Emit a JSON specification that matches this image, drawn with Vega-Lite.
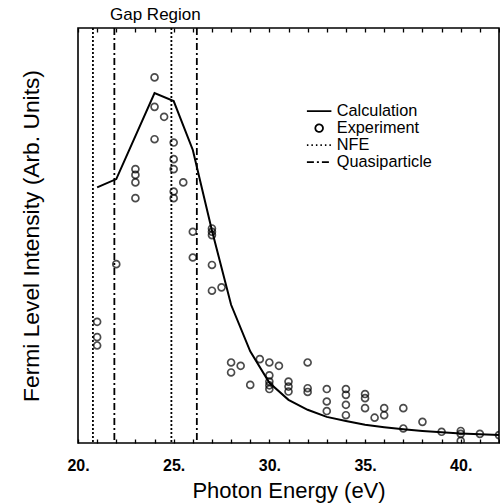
{
  "$schema": "https://vega.github.io/schema/vega-lite/v6.json",
  "width": 421,
  "height": 415,
  "autosize": {"type": "none"},
  "padding": {"left": 78, "top": 28, "right": 1, "bottom": 61},
  "background": "white",
  "title": {"text": "Gap Region", "anchor": "start", "frame": "group", "dx": 32, "offset": 3, "font": "Liberation Sans", "fontSize": 17, "fontWeight": "normal", "color": "black"},
  "config": {"view": {"stroke": "black", "strokeWidth": 1.6}},
  "datasets": {
    "refs": [
      {"energy": 20.78, "series": "NFE"},
      {"energy": 24.88, "series": "NFE"},
      {"energy": 21.9, "series": "Quasiparticle"},
      {"energy": 26.21, "series": "Quasiparticle"}
    ],
    "curve": [
      {"energy": 21, "intensity": 61.6, "series": "Calculation"},
      {"energy": 22, "intensity": 63.6, "series": "Calculation"},
      {"energy": 24, "intensity": 84.3, "series": "Calculation"},
      {"energy": 25, "intensity": 82.4, "series": "Calculation"},
      {"energy": 26, "intensity": 70.6, "series": "Calculation"},
      {"energy": 27, "intensity": 51.2, "series": "Calculation"},
      {"energy": 28, "intensity": 33.3, "series": "Calculation"},
      {"energy": 29, "intensity": 22.1, "series": "Calculation"},
      {"energy": 30, "intensity": 14.5, "series": "Calculation"},
      {"energy": 31, "intensity": 10.4, "series": "Calculation"},
      {"energy": 32, "intensity": 8.0, "series": "Calculation"},
      {"energy": 33, "intensity": 6.3, "series": "Calculation"},
      {"energy": 34, "intensity": 5.3, "series": "Calculation"},
      {"energy": 35, "intensity": 4.4, "series": "Calculation"},
      {"energy": 36, "intensity": 3.8, "series": "Calculation"},
      {"energy": 37, "intensity": 3.3, "series": "Calculation"},
      {"energy": 38, "intensity": 2.9, "series": "Calculation"},
      {"energy": 39, "intensity": 2.6, "series": "Calculation"},
      {"energy": 40, "intensity": 2.3, "series": "Calculation"},
      {"energy": 41, "intensity": 2.1, "series": "Calculation"},
      {"energy": 42, "intensity": 1.9, "series": "Calculation"}
    ],
    "exp": [
      {"energy": 21, "intensity": 29.2, "series": "Experiment"},
      {"energy": 21, "intensity": 25.5, "series": "Experiment"},
      {"energy": 21, "intensity": 23.5, "series": "Experiment"},
      {"energy": 22, "intensity": 43.1, "series": "Experiment"},
      {"energy": 23, "intensity": 66.0, "series": "Experiment"},
      {"energy": 23, "intensity": 64.6, "series": "Experiment"},
      {"energy": 23, "intensity": 62.8, "series": "Experiment"},
      {"energy": 23, "intensity": 59.0, "series": "Experiment"},
      {"energy": 24, "intensity": 88.1, "series": "Experiment"},
      {"energy": 24, "intensity": 81.0, "series": "Experiment"},
      {"energy": 24, "intensity": 73.2, "series": "Experiment"},
      {"energy": 24.5, "intensity": 78.6, "series": "Experiment"},
      {"energy": 25, "intensity": 72.4, "series": "Experiment"},
      {"energy": 25, "intensity": 68.4, "series": "Experiment"},
      {"energy": 25, "intensity": 66.0, "series": "Experiment"},
      {"energy": 25, "intensity": 60.6, "series": "Experiment"},
      {"energy": 25, "intensity": 59.0, "series": "Experiment"},
      {"energy": 25.5, "intensity": 62.8, "series": "Experiment"},
      {"energy": 26, "intensity": 50.9, "series": "Experiment"},
      {"energy": 26, "intensity": 44.7, "series": "Experiment"},
      {"energy": 27, "intensity": 51.7, "series": "Experiment"},
      {"energy": 27, "intensity": 50.9, "series": "Experiment"},
      {"energy": 27, "intensity": 50.1, "series": "Experiment"},
      {"energy": 27, "intensity": 42.9, "series": "Experiment"},
      {"energy": 27, "intensity": 36.7, "series": "Experiment"},
      {"energy": 27.5, "intensity": 37.5, "series": "Experiment"},
      {"energy": 28, "intensity": 19.4, "series": "Experiment"},
      {"energy": 28, "intensity": 17.0, "series": "Experiment"},
      {"energy": 28.5, "intensity": 18.6, "series": "Experiment"},
      {"energy": 29, "intensity": 14.0, "series": "Experiment"},
      {"energy": 29.5, "intensity": 20.2, "series": "Experiment"},
      {"energy": 30, "intensity": 19.4, "series": "Experiment"},
      {"energy": 30, "intensity": 16.3, "series": "Experiment"},
      {"energy": 30, "intensity": 14.8, "series": "Experiment"},
      {"energy": 30, "intensity": 13.9, "series": "Experiment"},
      {"energy": 30, "intensity": 13.0, "series": "Experiment"},
      {"energy": 30.5, "intensity": 18.6, "series": "Experiment"},
      {"energy": 31, "intensity": 14.8, "series": "Experiment"},
      {"energy": 31, "intensity": 13.6, "series": "Experiment"},
      {"energy": 31, "intensity": 12.4, "series": "Experiment"},
      {"energy": 32, "intensity": 19.4, "series": "Experiment"},
      {"energy": 32, "intensity": 13.2, "series": "Experiment"},
      {"energy": 32, "intensity": 12.3, "series": "Experiment"},
      {"energy": 33, "intensity": 13.0, "series": "Experiment"},
      {"energy": 33, "intensity": 10.0, "series": "Experiment"},
      {"energy": 33, "intensity": 7.7, "series": "Experiment"},
      {"energy": 34, "intensity": 13.0, "series": "Experiment"},
      {"energy": 34, "intensity": 11.6, "series": "Experiment"},
      {"energy": 34, "intensity": 9.2, "series": "Experiment"},
      {"energy": 34, "intensity": 6.7, "series": "Experiment"},
      {"energy": 35, "intensity": 11.8, "series": "Experiment"},
      {"energy": 35, "intensity": 10.8, "series": "Experiment"},
      {"energy": 35, "intensity": 8.4, "series": "Experiment"},
      {"energy": 35.5, "intensity": 6.1, "series": "Experiment"},
      {"energy": 36, "intensity": 8.4, "series": "Experiment"},
      {"energy": 36, "intensity": 6.7, "series": "Experiment"},
      {"energy": 37, "intensity": 8.4, "series": "Experiment"},
      {"energy": 37, "intensity": 3.5, "series": "Experiment"},
      {"energy": 38, "intensity": 5.1, "series": "Experiment"},
      {"energy": 39, "intensity": 2.7, "series": "Experiment"},
      {"energy": 40, "intensity": 2.9, "series": "Experiment"},
      {"energy": 40, "intensity": 2.2, "series": "Experiment"},
      {"energy": 40, "intensity": 0.5, "series": "Experiment"},
      {"energy": 41, "intensity": 2.2, "series": "Experiment"},
      {"energy": 42, "intensity": 1.9, "series": "Experiment"}
    ]
  },
  "resolve": {"axis": {"x": "independent"}},
  "layer": [
    {
      "data": {"name": "refs"},
      "mark": {"type": "rule", "strokeWidth": 1.8},
      "encoding": {
        "x": {
          "field": "energy", "type": "quantitative",
          "scale": {"domain": [20, 42], "nice": false, "zero": false},
          "axis": {
            "orient": "top", "values": [20,21,22,23,24,25,26,27,28,29,30,31,32,33,34,35,36,37,38,39,40,41,42],
            "labels": false, "title": null, "domain": false, "grid": false,
            "tickSize": -4, "tickColor": "black", "tickWidth": 1.3,
            "encode": {"ticks": {"update": {"y2": {"signal": "datum.value % 5 === 0 ? 7 : 4"}}}}
          }
        },
        "color": {"field": "series", "type": "nominal"},
        "strokeDash": {
          "field": "series", "type": "nominal",
          "scale": {"domain": ["NFE", "Quasiparticle"], "range": [[2, 2], [7, 3, 2, 3]]},
          "legend": null
        }
      }
    },
    {
      "data": {"name": "curve"},
      "mark": {"type": "line", "strokeWidth": 2, "clip": true},
      "encoding": {
        "x": {
          "field": "energy", "type": "quantitative",
          "scale": {"domain": [20, 42], "nice": false, "zero": false},
          "axis": {
            "orient": "bottom", "values": [20,21,22,23,24,25,26,27,28,29,30,31,32,33,34,35,36,37,38,39,40,41,42],
            "labelExpr": "datum.value % 5 === 0 ? datum.value + '.' : ''",
            "labelOverlap": false, "labelFlush": false,
            "domain": false, "grid": false,
            "tickSize": -4, "tickColor": "black", "tickWidth": 1.3,
            "encode": {"ticks": {"update": {"y2": {"signal": "datum.value % 5 === 0 ? -7 : -4"}}}},
            "labelFont": "Liberation Sans", "labelFontSize": 16, "labelFontWeight": "bold", "labelColor": "black",
            "labelPadding": 18,
            "title": "Photon Energy (eV)", "titleFont": "Liberation Sans", "titleFontSize": 22,
            "titleFontWeight": "normal", "titleColor": "black", "titlePadding": 7
          }
        },
        "y": {
          "field": "intensity", "type": "quantitative",
          "scale": {"domain": [0, 100], "nice": false, "zero": false},
          "axis": {
            "ticks": false, "labels": false, "domain": false, "grid": false,
            "title": "Fermi Level Intensity (Arb. Units)", "titleFont": "Liberation Sans",
            "titleFontSize": 22.8, "titleFontWeight": "normal", "titleColor": "black", "titlePadding": 35
          }
        },
        "color": {
          "field": "series", "type": "nominal",
          "scale": {"domain": ["Calculation", "Experiment", "NFE", "Quasiparticle"], "range": ["black", "black", "black", "black"]},
          "legend": {
            "title": null, "orient": "none", "legendX": 233, "legendY": 75,
            "symbolSize": 150, "symbolStrokeWidth": 1.8, "labelOffset": 9.5,
            "labelFont": "Liberation Sans", "labelFontSize": 16.3, "labelColor": "black", "rowPadding": 0,
            "encode": {
              "symbols": {
                "update": {
                  "shape": {"signal": "datum.value === 'Experiment' ? 'M0.62,0A0.62,0.62,0,1,1,-0.62,0A0.62,0.62,0,1,1,0.62,0Z' : 'M-2,0L2,0'"},
                  "strokeDash": {"signal": "datum.value === 'NFE' ? [1.5, 3] : datum.value === 'Quasiparticle' ? [7, 3, 2, 3] : [1, 0]"},
                  "stroke": {"value": "black"},
                  "fill": {"value": "transparent"},
                  "strokeWidth": {"value": 1.8},
                  "opacity": {"value": 1}
                }
              }
            }
          }
        }
      }
    },
    {
      "data": {"name": "exp"},
      "mark": {"type": "point", "shape": "circle", "filled": false, "size": 48, "strokeWidth": 1.7, "clip": true},
      "encoding": {
        "x": {"field": "energy", "type": "quantitative", "scale": {"domain": [20, 42], "nice": false, "zero": false}, "axis": null},
        "y": {"field": "intensity", "type": "quantitative", "scale": {"domain": [0, 100], "nice": false, "zero": false}},
        "color": {"field": "series", "type": "nominal"}
      }
    }
  ]
}
